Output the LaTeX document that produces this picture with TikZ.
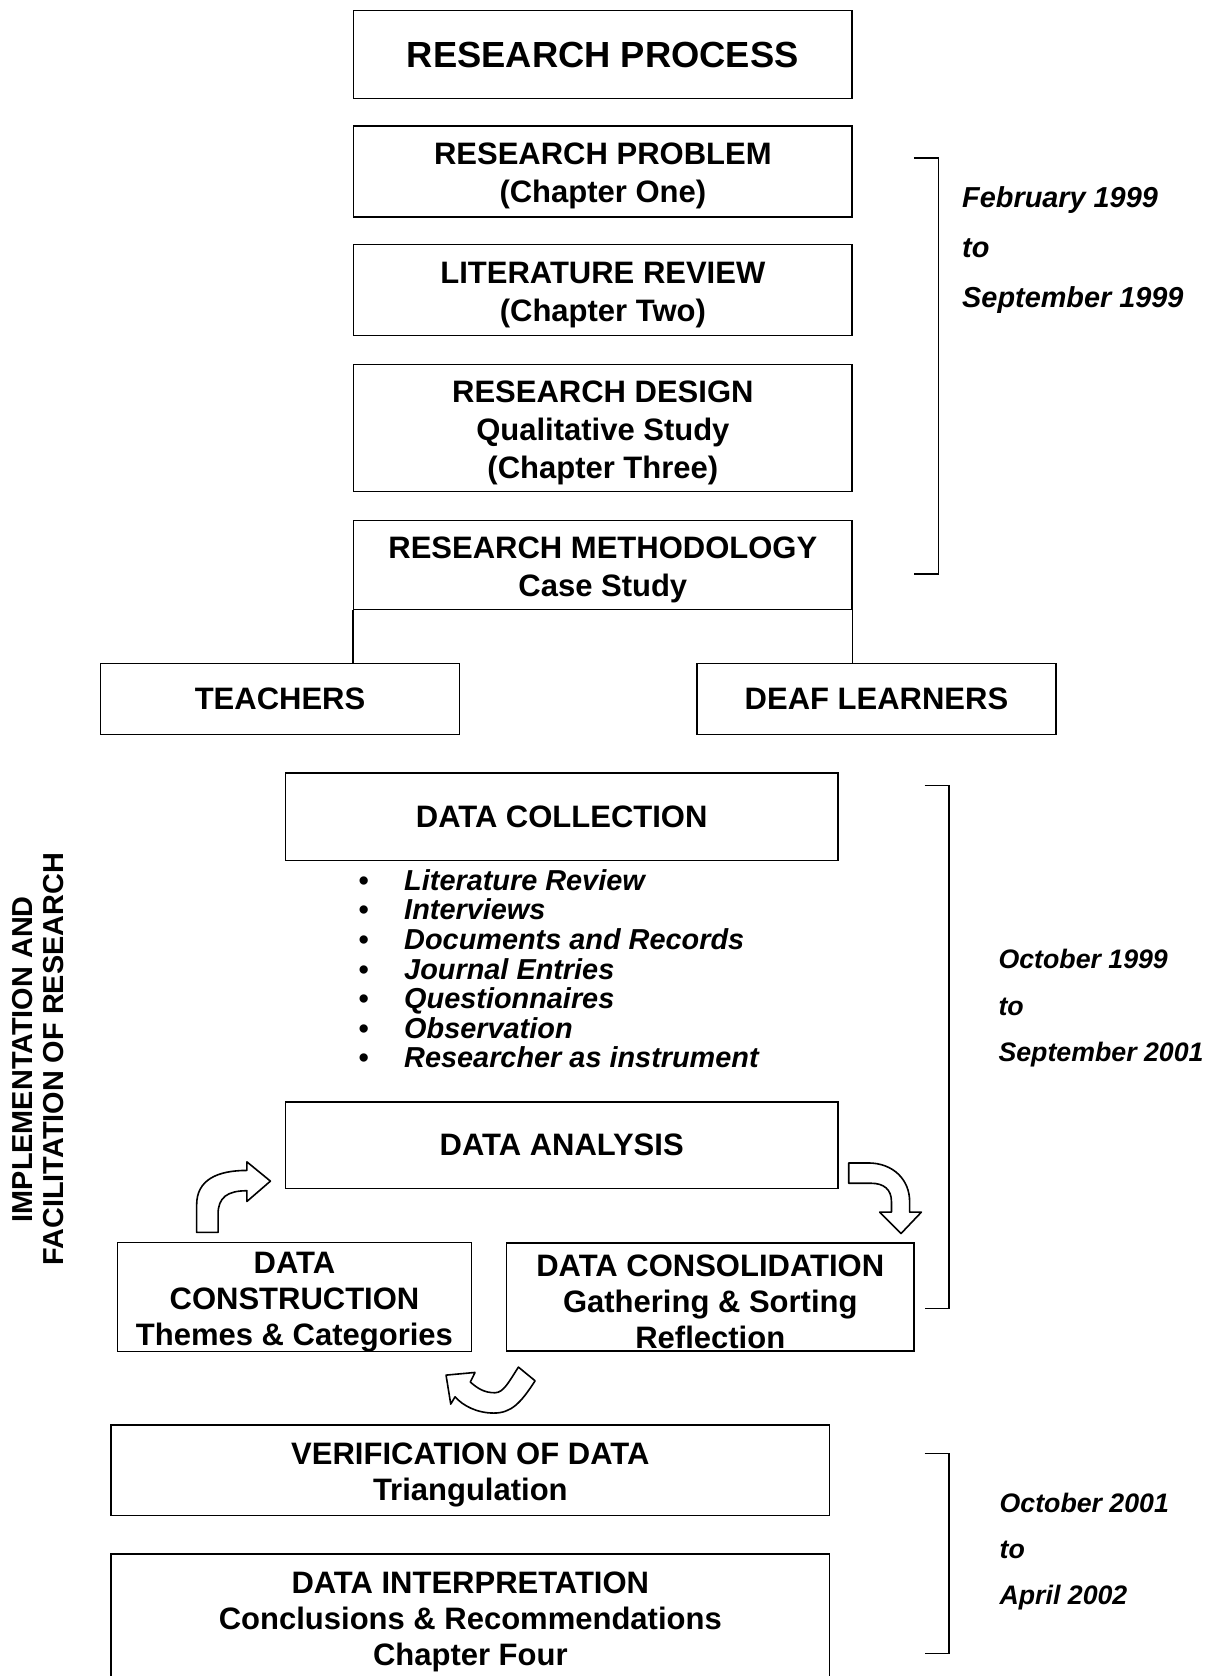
\documentclass[tikz,border=0pt]{standalone}
\usepackage{fontspec}
\setmainfont{Liberation Sans}
\newcommand\ttlfnt{\bfseries\fontsize{34}{40}\selectfont}
\newcommand\bxfnt{\bfseries\fontsize{29}{35.5}\selectfont}
\newcommand\lowfnt{\bfseries\fontsize{29}{33.5}\selectfont}
\newcommand\lstfnt{\bfseries\itshape\fontsize{27}{27}\selectfont}
\newcommand\dtfntA{\bfseries\itshape\fontsize{27}{32}\selectfont}
\newcommand\dtfntB{\bfseries\itshape\fontsize{25}{30}\selectfont}
\newcommand\sidefnt{\bfseries\fontsize{27}{29}\selectfont}
% extra head room on the first line of the multi-line boxes
\newcommand\tstrut{\rule{0pt}{29pt}}
\begin{document}
\begin{tikzpicture}[x=1pt,y=-1pt,
  bx/.style={draw, line width=1.3pt, inner sep=0pt, align=center, font=\bxfnt},
  lowbx/.style={bx, font=\lowfnt},
  bracketline/.style={line width=1.3pt},
  blockarrow/.style={draw, fill=white, line width=1.5pt, line join=round},
  dateA/.style={anchor=base west, inner sep=0pt, font=\dtfntA},
  dateB/.style={anchor=base west, inner sep=0pt, font=\dtfntB}]
\useasboundingbox (0,0) rectangle (1133,1568);
\clip (0,0) rectangle (1133,1568);

% planning stage
\node[bx, font=\ttlfnt, minimum width=466pt, minimum height=82pt] (proc) at (564,51) {RESEARCH PROCESS};
\node[bx, minimum width=466pt, minimum height=85pt] (prob) at (564,160.5) {\tstrut RESEARCH PROBLEM\\(Chapter One)};
\node[bx, minimum width=466pt, minimum height=85pt] (lit) at (564,271.5) {\tstrut LITERATURE REVIEW\\(Chapter Two)};
\node[bx, minimum width=466pt, minimum height=119pt] (design) at (564,400.5) {\tstrut RESEARCH DESIGN\\Qualitative Study\\(Chapter Three)};
\node[bx, minimum width=466pt, minimum height=83pt] (meth) at (564,528.5) {\tstrut RESEARCH METHODOLOGY\\Case Study};

% participants
\node[bx, minimum width=336pt, minimum height=66pt] (teach) at (262,654) {TEACHERS};
\node[bx, minimum width=336pt, minimum height=66pt] (deaf) at (820,654) {DEAF LEARNERS};
\draw[line width=1.3pt] (meth.south west) -- (meth.south west |- teach.north);
\draw[line width=1.3pt] (meth.south east) -- (meth.south east |- deaf.north);

% implementation stage
\node[bx, minimum width=517pt, minimum height=82pt] (coll) at (525.5,764) {DATA COLLECTION};
\node[anchor=base west, inner sep=0pt, font=\lstfnt] (methods) at (335,833)
  {\begin{tabular}[t]{@{}p{43pt}@{}l@{}}
   \textbullet & Literature Review\\
   \textbullet & Interviews\\
   \textbullet & Documents and Records\\
   \textbullet & Journal Entries\\
   \textbullet & Questionnaires\\
   \textbullet & Observation\\
   \textbullet & Researcher as instrument
   \end{tabular}};
\node[bx, minimum width=517pt, minimum height=81pt] (anal) at (525.5,1071.5) {DATA ANALYSIS};
\node[lowbx, minimum width=331pt, minimum height=101pt] (constr) at (275.5,1213.5) {\tstrut DATA\\CONSTRUCTION\\Themes \& Categories};
\node[lowbx, minimum width=381pt, minimum height=101pt] (consol) at (664.5,1213.5) {\tstrut DATA CONSOLIDATION\\Gathering \& Sorting\\Reflection};

% verification stage
\node[lowbx, minimum width=672pt, minimum height=85pt] (verif) at (440,1375.5) {\tstrut VERIFICATION OF DATA\\Triangulation};
\node[lowbx, minimum width=672pt, minimum height=118pt] (interp) at (440,1513) {\tstrut DATA INTERPRETATION\\Conclusions \& Recommendations\\Chapter Four};

% cycle arrows
\draw[blockarrow] (184,1153) -- (184,1127)
  .. controls (184,1104) and (203,1095) .. (231,1095) -- (231,1087) -- (253,1105)
  -- (231,1124) -- (231,1114)
  .. controls (213,1114) and (204,1120) .. (204,1136) -- (204,1153) -- cycle;
\draw[blockarrow] (794,1088) -- (812,1088)
  .. controls (836,1088) and (851,1104) .. (851,1124) -- (851,1134) -- (862,1134)
  -- (843,1154) -- (823,1134) -- (834,1134) -- (834,1124)
  .. controls (834,1113) and (827,1107) .. (815,1107) -- (794,1107) -- cycle;
\draw[blockarrow] (485,1279) -- (500.6,1291.8)
  .. controls (487,1313) and (478,1322) .. (462,1322)
  .. controls (446,1322) and (433,1315) .. (425.7,1306.8) -- (421.7,1313.6)
  -- (417.3,1286.5) -- (444.4,1284) -- (440,1293)
  .. controls (447,1299) and (453,1303) .. (463,1303)
  .. controls (471,1303) and (476,1293) .. (485,1279) -- cycle;

% time brackets
\coordinate (b1t) at (855,148);
\coordinate (b1b) at (855,537);
\draw[bracketline] (b1t) -- ++(23,0) |- (b1b);
\coordinate (b2t) at (865,735);
\coordinate (b2b) at (865,1224);
\draw[bracketline] (b2t) -- ++(23,0) |- (b2b);
\coordinate (b3t) at (865,1360);
\coordinate (b3b) at (865,1547);
\draw[bracketline] (b3t) -- ++(23,0) |- (b3b);

% dates
\node[dateA] (d1a) at (900,194) {February 1999};
\node[dateA] (d1b) at (900,241) {to};
\node[dateA] (d1c) at (900,288) {September 1999};
\node[dateB] (d2a) at (934,906) {October 1999};
\node[dateB] (d2b) at (934,950) {to};
\node[dateB] (d2c) at (934,993) {September 2001};
\node[dateB] (d3a) at (935,1415) {October 2001};
\node[dateB] (d3b) at (935,1458) {to};
\node[dateB] (d3c) at (935,1501) {April 2002};

% side caption
\node[rotate=90, anchor=north, align=center, inner sep=0pt, font=\sidefnt] (side) at (11,991)
  {IMPLEMENTATION AND\\FACILITATION OF RESEARCH};
\end{tikzpicture}
\end{document}
